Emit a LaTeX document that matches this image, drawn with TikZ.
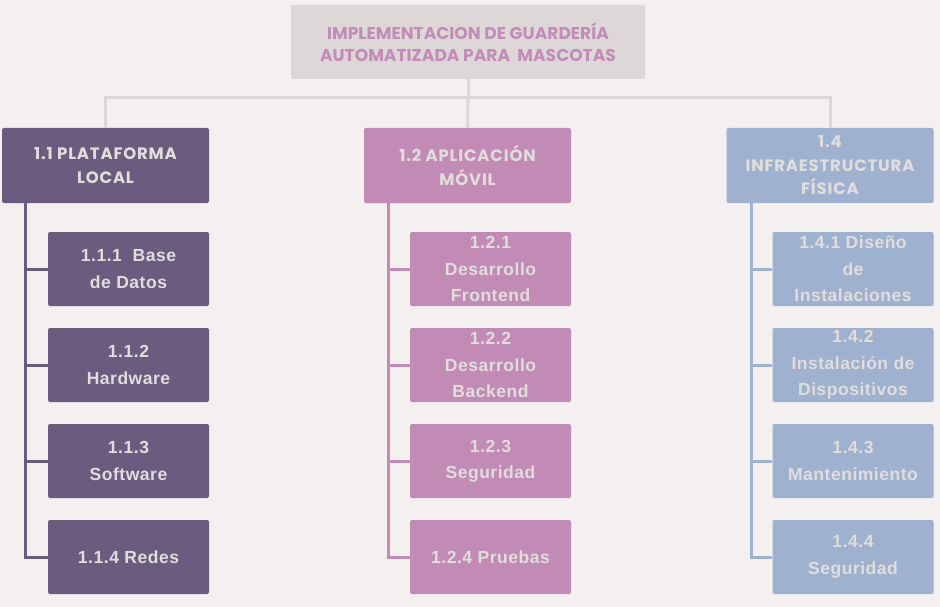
\documentclass[tikz,border=0pt]{standalone}
\usepackage{fontspec}
\setmainfont{Poppins}
\newfontfamily\headfont[LetterSpace=5]{Poppins}
\newfontfamily\bodyfont[LetterSpace=3]{Liberation Sans}
\definecolor{bgc}{HTML}{F4F0F0}
\definecolor{topc}{HTML}{DDD8D7}
\definecolor{toptext}{HTML}{C38BB8}
\definecolor{cola}{HTML}{6B5C7F}
\definecolor{colb}{HTML}{C18BB5}
\definecolor{colc}{HTML}{9EB1CF}
\definecolor{txt}{HTML}{E2DDDD}
\begin{document}
\begin{tikzpicture}[x=1pt,y=-1pt,
  box/.style={rounded corners=2pt,inner sep=0pt,align=center,text=txt},
  lvlone/.style={box,minimum width=207pt,minimum height=75pt,font=\headfont\fontsize{16.5}{23.5}\selectfont\bfseries},
  lvltwo/.style={box,minimum width=161pt,minimum height=74pt,font=\bodyfont\fontsize{17.5}{26.5}\selectfont\bfseries},
  link/.style={line width=3pt},
]
\fill[bgc] (0,0) rectangle (940,607);
\useasboundingbox (0,0) rectangle (940,607);
\node[rounded corners=2pt,fill=topc,minimum width=354pt,minimum height=74pt,inner sep=0pt,align=center,text=toptext,font=\fontsize{17.1}{22}\selectfont\bfseries] (top) at (468,42) {IMPLEMENTACION DE GUARDERÍA\\AUTOMATIZADA PARA\ \ MASCOTAS};
\node[lvlone,fill=cola] (a) at (105.5,165.5) {1.1 PLATAFORMA\\LOCAL};
\node[lvlone,fill=colb] (b) at (467.5,165.5) {1.2 APLICACIÓN\\MÓVIL};
\node[lvlone,fill=colc] (c) at (830,165.5) {1.4\\INFRAESTRUCTURA\\FÍSICA};
\coordinate (hub) at (468,98);
\draw[link,topc] (top.south) -- (hub);
\draw[link,topc] (a.north) |- (hub) -| (c.north);
\draw[link,topc] (hub) -- (b.north);
% column 1
\node[lvltwo,fill=cola] (a1) at (128.5,269) {1.1.1\ \ Base\\de Datos};
\node[lvltwo,fill=cola] (a2) at (128.5,365) {1.1.2\\Hardware};
\node[lvltwo,fill=cola] (a3) at (128.5,461) {1.1.3\\Software};
\node[lvltwo,fill=cola] (a4) at (128.5,557) {1.1.4 Redes};
\coordinate (sa) at (25,203);
\draw[link,cola] (sa) -- (sa|-a4.west) -- (a4.west);
\foreach \n in {a1,a2,a3} \draw[link,cola] (sa|-\n.west) -- (\n.west);
% column 2
\node[lvltwo,fill=colb] (b1) at (490.5,269) {1.2.1\\Desarrollo\\Frontend};
\node[lvltwo,fill=colb] (b2) at (490.5,365) {1.2.2\\Desarrollo\\Backend};
\node[lvltwo,fill=colb] (b3) at (490.5,461) {1.2.3\\Seguridad};
\node[lvltwo,fill=colb] (b4) at (490.5,557) {1.2.4 Pruebas};
\coordinate (sb) at (388,203);
\draw[link,colb] (sb) -- (sb|-b4.west) -- (b4.west);
\foreach \n in {b1,b2,b3} \draw[link,colb] (sb|-\n.west) -- (\n.west);
% column 3
\node[lvltwo,fill=colc] (c1) at (853,269) {1.4.1 Diseño\\de\\Instalaciones};
\node[lvltwo,fill=colc] (c2) at (853,365) {1.4.2\\Instalación de\\Dispositivos};
\node[lvltwo,fill=colc] (c3) at (853,461) {1.4.3\\Mantenimiento};
\node[lvltwo,fill=colc] (c4) at (853,557) {1.4.4\\Seguridad};
\coordinate (sc) at (751,203);
\draw[link,colc] (sc) -- (sc|-c4.west) -- (c4.west);
\foreach \n in {c1,c2,c3} \draw[link,colc] (sc|-\n.west) -- (\n.west);
\end{tikzpicture}
\end{document}
